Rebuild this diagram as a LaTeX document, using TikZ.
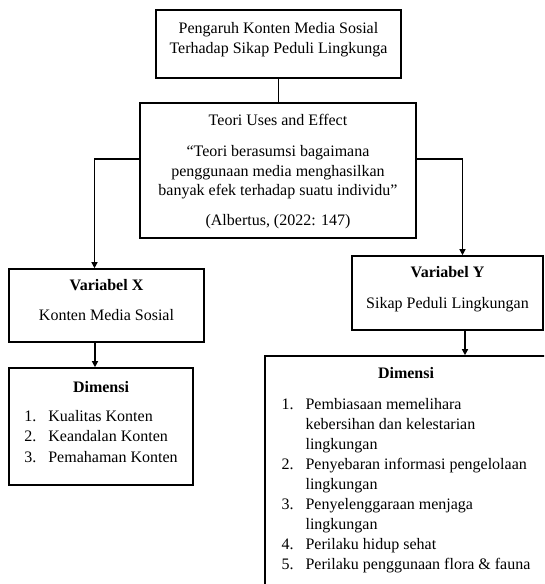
\documentclass[tikz,border=0pt]{standalone}
\usepackage{fontspec}
\setmainfont{Liberation Serif}
\usetikzlibrary{arrows.meta}

\begin{document}
\begin{tikzpicture}[
    x=1pt, y=-1pt,
    box node/.style={draw, line width=1.6pt, inner sep=0pt, align=center, font=\fontsize{16}{20.5}\selectfont},
    link/.style={line width=1.3pt},
    arrow link/.style={link, -{Triangle[length=6pt, width=6pt]}}
]
    \useasboundingbox (0,0) rectangle (544,584);
    \clip (0,0) rectangle (544,584);

    % --- Judul ---
    \node[box node, minimum width=245pt, minimum height=68pt, text height=43.5pt, text depth=24.5pt] (Judul) at (278.5,44)
        {Pengaruh Konten Media Sosial\\Terhadap Sikap Peduli Lingkunga};

    % --- Teori ---
    \node[box node, font=\fontsize{16}{19.5}\selectfont, minimum width=276pt, minimum height=135pt, text height=122pt, text depth=13pt] (Teori) at (278,170.5)
        {Teori Uses and Effect\\[12pt]“Teori berasumsi bagaimana\\penggunaan media menghasilkan\\banyak efek terhadap suatu individu”\\[10pt](Albertus, (2022: 147)};

    % --- Variabel X dan Y ---
    \node[box node, minimum width=195pt, minimum height=73pt, text height=51.6pt, text depth=21.4pt] (VarX) at (106.5,305.5)
        {\textbf{Variabel X}\\[10pt]Konten Media Sosial};
    \node[box node, minimum width=191pt, minimum height=74pt, text height=52pt, text depth=22pt] (VarY) at (447.5,293)
        {\textbf{Variabel Y}\\[10pt]Sikap Peduli Lingkungan};

    % --- Dimensi X ---
    \node[box node, minimum width=184pt, minimum height=117pt, text height=24pt, text depth=93pt] (DimX) at (101,426.5) {%
        \begin{tabular}[t]{@{}l@{\hspace{12pt}}l@{}}
            \multicolumn{2}{c}{\textbf{Dimensi}}\\[8.5pt]
            1. & Kualitas Konten\\
            2. & Keandalan Konten\\
            3. & Pemahaman Konten
        \end{tabular}};

    % --- Dimensi Y ---
    \node[box node, font=\fontsize{16}{20}\selectfont, minimum width=282pt, minimum height=240pt, text height=22.6pt, text depth=217.4pt] (DimY) at (406,476) {%
        \begin{tabular}[t]{@{}l@{\hspace{12pt}}l@{}}
            \multicolumn{2}{c}{\textbf{Dimensi}}\\[10.5pt]
            1. & Pembiasaan memelihara\\
               & kebersihan dan kelestarian\\
               & lingkungan\\
            2. & Penyebaran informasi pengelolaan\\
               & lingkungan\\
            3. & Penyelenggaraan menjaga\\
               & lingkungan\\
            4. & Perilaku hidup sehat\\
            5. & Perilaku penggunaan flora \& fauna
        \end{tabular}};

    % --- Penghubung ---
    \draw[link] (Judul.south) -- (Judul.south |- Teori.north);
    \draw[arrow link] ([yshift=11.5pt]Teori.west) -| ([xshift=-12pt]VarX.north);
    \draw[arrow link] ([yshift=11.5pt]Teori.east) -| ([xshift=15pt]VarY.north);
    \draw[arrow link] ([xshift=-11.5pt]VarX.south) -- ([xshift=-6pt]DimX.north);
    \draw[arrow link] ([xshift=17.5pt]VarY.south) -- ([xshift=59pt]DimY.north);
\end{tikzpicture}
\end{document}
